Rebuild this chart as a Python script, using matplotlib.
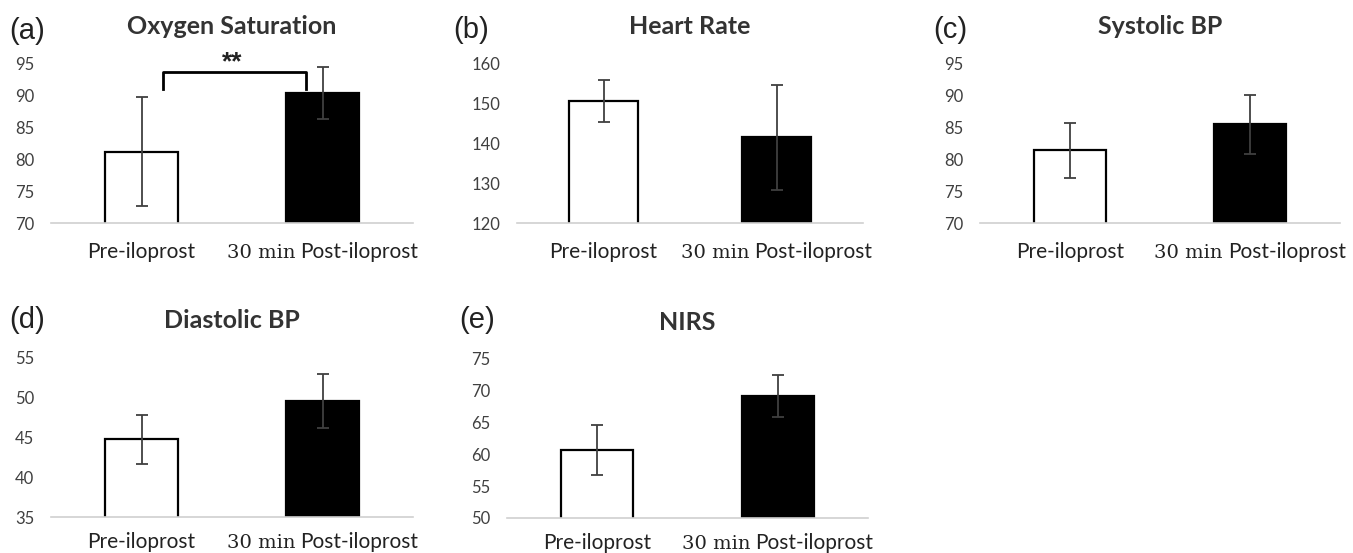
import matplotlib
matplotlib.use("Agg")
import matplotlib.pyplot as plt

# data (mean, +/- error)
categories = ["Pre-iloprost", "30 min Post-iloprost"]
titles = ["Oxygen Saturation", "Heart Rate", "Systolic BP", "Diastolic BP", "NIRS"]
tags = ["(a)", "(b)", "(c)", "(d)", "(e)"]

spo2_mean = [81.2, 90.5]
spo2_err = [8.6, 4.1]
hr_mean = [150.8, 141.6]
hr_err = [5.3, 13.2]
sbp_mean = [81.4, 85.5]
sbp_err = [4.3, 4.7]
dbp_mean = [44.7, 49.5]
dbp_err = [3.1, 3.4]
nirs_mean = [60.7, 69.2]
nirs_err = [4.0, 3.3]

y_ranges = [(70, 95, 5), (120, 160, 10), (70, 95, 5), (35, 55, 5), (50, 75, 5)]

W, H = 1353, 553
fig = plt.figure(figsize=(W / 100, H / 100), dpi=100)

# axes boxes in pixels: left, right, top, bottom
boxes = [(51, 413, 64, 223), (517, 863, 64, 223), (980, 1340, 64, 223),
         (51, 413, 357, 517), (507, 868, 359, 518)]
tag_pos = [(9, 31), (453, 30), (933, 30), (9, 320), (459, 320)]

means = [spo2_mean, hr_mean, sbp_mean, dbp_mean, nirs_mean]
errs = [spo2_err, hr_err, sbp_err, dbp_err, nirs_err]

SANS = "Lato"
label_texts = []

axes = []
for i in range(5):
    x0, x1, yt, yb = boxes[i]
    ax = fig.add_axes([x0 / W, 1 - yb / H, (x1 - x0) / W, (yb - yt) / H])
    axes.append(ax)
    lo, hi, step = y_ranges[i]
    lab_off = -29 if i < 3 else -25
    x = [0, 1]
    ax.bar(x, means[i], width=0.4, color=["white", "black"],
           edgecolor="black", linewidth=1.6, zorder=2)
    ax.errorbar(x, means[i], yerr=errs[i], fmt="none", ecolor="#404040",
                elinewidth=1.3, capsize=4, capthick=1.3, zorder=3)
    ax.set_xlim(-0.5, 1.5)
    ax.set_ylim(lo, hi)
    ax.set_yticks(range(lo, hi + 1, step))
    ax.tick_params(axis="y", length=0, pad=12, labelsize=12, labelcolor="#404040")
    for lab in ax.get_yticklabels():
        lab.set_family(SANS)
    ax.set_xticks(x)
    ax.set_xticklabels(["", ""])
    ax.tick_params(axis="x", length=0)
    for s in ["top", "right", "left"]:
        ax.spines[s].set_visible(False)
    ax.spines["bottom"].set_color("#d0d0d0")
    ax.spines["bottom"].set_linewidth(1.2)
    ax.spines["bottom"].set_zorder(4)

    ax.annotate(titles[i], xy=(0.5, 1), xycoords="axes fraction",
                xytext=(0, 37), textcoords="offset pixels",
                ha="center", va="center", fontsize=18, fontweight="bold",
                family=SANS, color="#333333")
    fig.text(tag_pos[i][0] / W, 1 - tag_pos[i][1] / H, tags[i],
             fontsize=21, family="Liberation Sans", color="#222222",
             ha="left", va="center")

    # category labels: first one plain, second one "30 min" serif + rest sans
    ax.annotate(categories[0], xy=(0, lo), xycoords="data",
                xytext=(0, lab_off), textcoords="offset pixels",
                ha="center", va="center", fontsize=15, family=SANS,
                color="#222222")
    head, tail = categories[1][:6], categories[1][7:]
    t1 = ax.annotate(head, xy=(1, lo), xycoords="data",
                     xytext=(0, lab_off), textcoords="offset pixels",
                     ha="left", va="baseline", fontsize=14,
                     family="DejaVu Serif", color="#222222")
    t2 = ax.annotate(tail, xy=(1, lo), xycoords="data",
                     xytext=(0, lab_off), textcoords="offset pixels",
                     ha="left", va="baseline", fontsize=15, family=SANS,
                     color="#222222")
    label_texts.append((t1, t2, lab_off))

# significance bracket on panel (a)
ax = axes[0]
ax.plot([0.12, 0.12, 0.91, 0.91], [91.0, 93.8, 93.8, 91.0], color="black",
        linewidth=2, clip_on=False, zorder=5)
ax.text(0.5, 95.3, "**", ha="center", va="center", fontsize=19,
        fontweight="bold", family="Liberation Sans", color="#222222",
        clip_on=False)

# center the two-font label under the second bar
fig.canvas.draw()
r = fig.canvas.get_renderer()
gap = 5
for t1, t2, off in label_texts:
    w1 = t1.get_window_extent(r).width
    w2 = t2.get_window_extent(r).width
    total = w1 + gap + w2
    t1.set_position((-total / 2, off - 6))
    t2.set_position((-total / 2 + w1 + gap, off - 6))

fig.savefig("out.png", dpi=100)
